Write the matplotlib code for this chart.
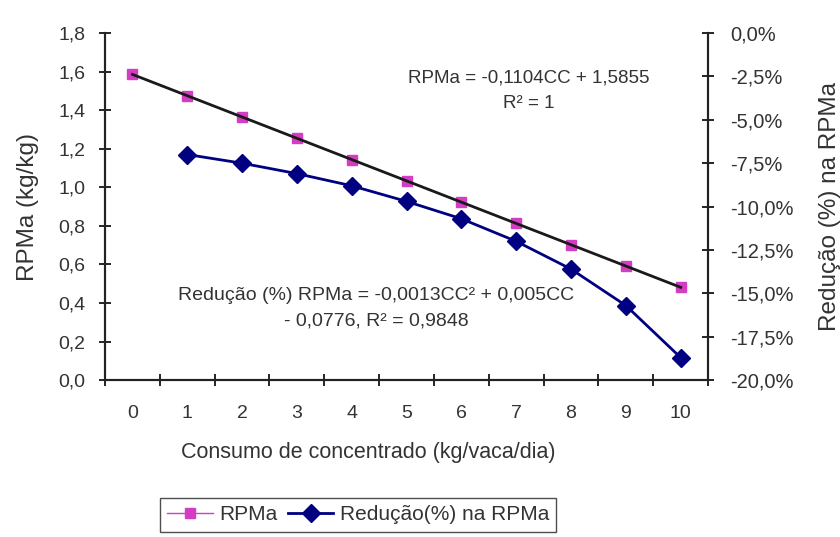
import matplotlib.pyplot as plt
from matplotlib.ticker import FixedLocator, FuncFormatter

plt.rcParams['font.family'] = ['Liberation Sans', 'DejaVu Sans']

# consumo de concentrado (kg/vaca/dia)
consumo = [0, 1, 2, 3, 4, 5, 6, 7, 8, 9, 10]
# RPMa (kg/kg)
rpma = [1.5855, 1.4751, 1.3647, 1.2543, 1.1439, 1.0335, 0.9231, 0.8127, 0.7023, 0.5919, 0.4815]
# redução (%) na RPMa, a partir de 1 kg
consumo_red = [1, 2, 3, 4, 5, 6, 7, 8, 9, 10]
reducao = [-7.0, -7.5, -8.1, -8.8, -9.7, -10.7, -12.0, -13.6, -15.7, -18.7]

# linha de tendência linear
coef_a, coef_b = -0.1104, 1.5855

txt = '#333333'
pink = '#d43cc4'
navy = '#000080'

fig = plt.figure(figsize=(8.4, 5.37), dpi=100)
ax = fig.add_axes([0.125, 0.292, 0.718, 0.6465])
ax2 = ax.twinx()

l1, = ax.plot(consumo, rpma, color=pink, lw=1, marker='s', ms=7,
              markerfacecolor=pink, markeredgecolor=pink, label='RPMa', zorder=3)
ax.plot([consumo[0], consumo[-1]],
        [coef_b + coef_a * consumo[0], coef_b + coef_a * consumo[-1]],
        color='#1a1a1a', lw=2, zorder=4)
l2, = ax2.plot(consumo_red, reducao, color=navy, lw=2, marker='D', ms=9,
               markerfacecolor=navy, markeredgecolor=navy,
               label='Redução(%) na RPMa', zorder=3)

ax.set_xlim(-0.5, 10.5)
ax.set_ylim(0, 1.8)
ax2.set_ylim(-20, 0)

# marcas de divisão entre categorias, rótulos no centro
ax.xaxis.set_major_locator(FixedLocator([i - 0.5 for i in range(12)]))
ax.xaxis.set_major_formatter(FuncFormatter(lambda v, p: ''))
ax.xaxis.set_minor_locator(FixedLocator(consumo))
ax.xaxis.set_minor_formatter(FuncFormatter(lambda v, p: '%d' % v))
ax.tick_params(axis='x', which='major', direction='inout', length=8, width=1.2)
ax.tick_params(axis='x', which='minor', length=0, pad=18, labelsize=14, labelcolor=txt)

ax.set_yticks([i * 0.2 for i in range(10)])
ax.yaxis.set_major_formatter(FuncFormatter(lambda v, p: ('%.1f' % v).replace('.', ',')))
ax.tick_params(axis='y', direction='inout', length=8, width=1.2, labelsize=14,
               labelcolor=txt, pad=10)

ax2.set_yticks([-20 + 2.5 * i for i in range(9)])
ax2.yaxis.set_major_formatter(FuncFormatter(lambda v, p: ('%.1f%%' % v).replace('.', ',')))
ax2.tick_params(axis='y', direction='inout', length=8, width=1.2, labelsize=14.5,
                labelcolor=txt, pad=12)

for a in (ax, ax2):
    a.spines['top'].set_visible(False)
    for s in ('left', 'right', 'bottom'):
        a.spines[s].set_linewidth(1.5)
        a.spines[s].set_color('#222222')

ax.set_xlabel('Consumo de concentrado (kg/vaca/dia)', fontsize=15.5, color=txt)
ax.xaxis.set_label_coords(0.436, -0.178)
ax.set_ylabel('RPMa (kg/kg)', fontsize=17.5, color=txt, labelpad=14)
ax2.set_ylabel('Redução (%) na RPMa', fontsize=17.5, color=txt, labelpad=18)

ax.text(7.22, 1.5, 'RPMa = -0,1104CC + 1,5855\nR² = 1', ha='center', va='center',
        fontsize=13.5, color=txt, linespacing=1.6)
ax.text(4.45, 0.373, 'Redução (%) RPMa = -0,0013CC² + 0,005CC\n- 0,0776, R² = 0,9848',
        ha='center', va='center', fontsize=14, color=txt, linespacing=1.7)

leg = fig.legend(handles=[l1, l2], loc='center', bbox_to_anchor=(358 / 840, 1 - 515 / 537),
                 ncol=2, fontsize=15, frameon=True, fancybox=False, handlelength=2.2,
                 columnspacing=0.5, handletextpad=0.3, borderpad=0.35)
leg.get_frame().set_edgecolor('#222222')
leg.get_frame().set_linewidth(1)
for t in leg.get_texts():
    t.set_color(txt)

fig.savefig('out.png', dpi=100)
